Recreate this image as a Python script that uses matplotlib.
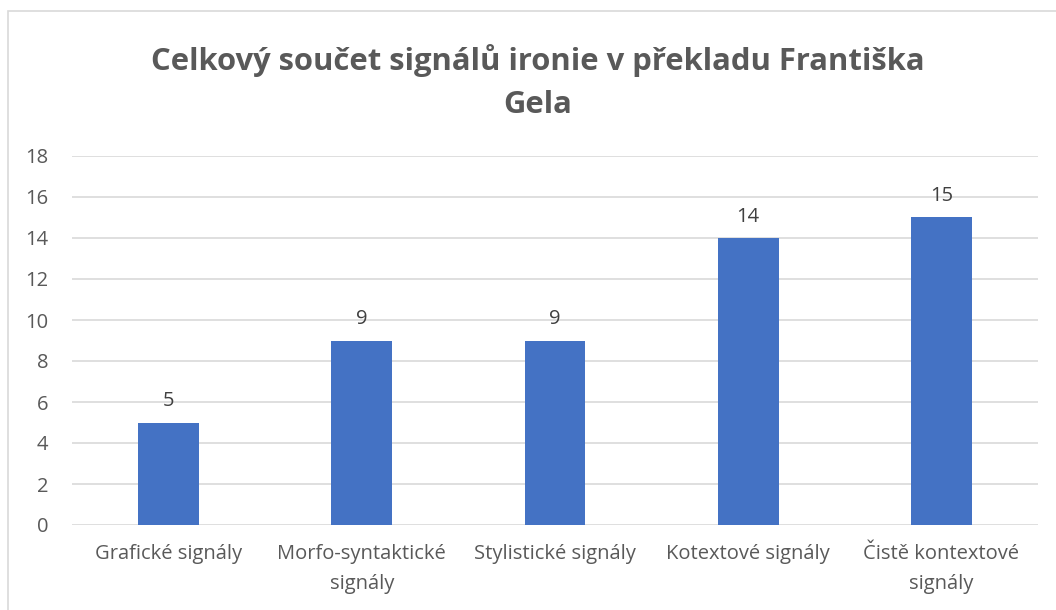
import matplotlib
matplotlib.use("Agg")
import matplotlib.pyplot as plt
from matplotlib.patches import Rectangle

categories = ["Grafické signály", "Morfo-syntaktické\nsignály", "Stylistické signály",
              "Kotextové signály", "Čistě kontextové\nsignály"]
values = [5, 9, 9, 14, 15]
yticks = [0, 2, 4, 6, 8, 10, 12, 14, 16, 18]
title = "Celkový součet signálů ironie v překladu Františka\nGela"

W, H = 1056, 610
fig = plt.figure(figsize=(W / 100, H / 100), dpi=100)
plt.rcParams['font.family'] = ['Open Sans', 'DejaVu Sans']

# chart border
fig.patches.append(Rectangle((8 / W, -0.1), 1.2, (H - 11) / H + 0.1, transform=fig.transFigure,
                             fill=False, edgecolor="#d9d9d9", linewidth=1.2, zorder=0))

ax = fig.add_axes([72 / W, 85 / H, (1038 - 72) / W, (525 - 156) / H])
x = list(range(len(categories)))
bars = ax.bar(x, values, width=0.315, color="#4472c4", zorder=3)
ax.set_xlim(-0.5, len(categories) - 0.5)
ax.set_ylim(0, 18)
ax.set_yticks(yticks)
ax.set_xticks(x)
ax.set_xticklabels(categories, fontsize=14.5, color="#595959", linespacing=1.65)
ax.tick_params(axis='y', labelsize=14.5, labelcolor="#595959", length=0, pad=17)
ax.tick_params(axis='x', length=0, pad=14)
ax.grid(axis='y', color="#d9d9d9", linewidth=1.2, zorder=0)
for s in ax.spines.values():
    s.set_visible(False)
ax.set_axisbelow(True)

for xi, v in zip(x, values):
    ax.annotate(str(v), (xi, v), xytext=(0, 8), textcoords="offset points",
                ha="center", va="bottom", fontsize=14.5, color="#404040")

fig.text(538 / W, 1 - 82 / H, title, ha="center", va="center", fontsize=22.3,
         fontweight="bold", color="#595959", linespacing=1.6)

fig.savefig("out.png", dpi=100, facecolor="white")
